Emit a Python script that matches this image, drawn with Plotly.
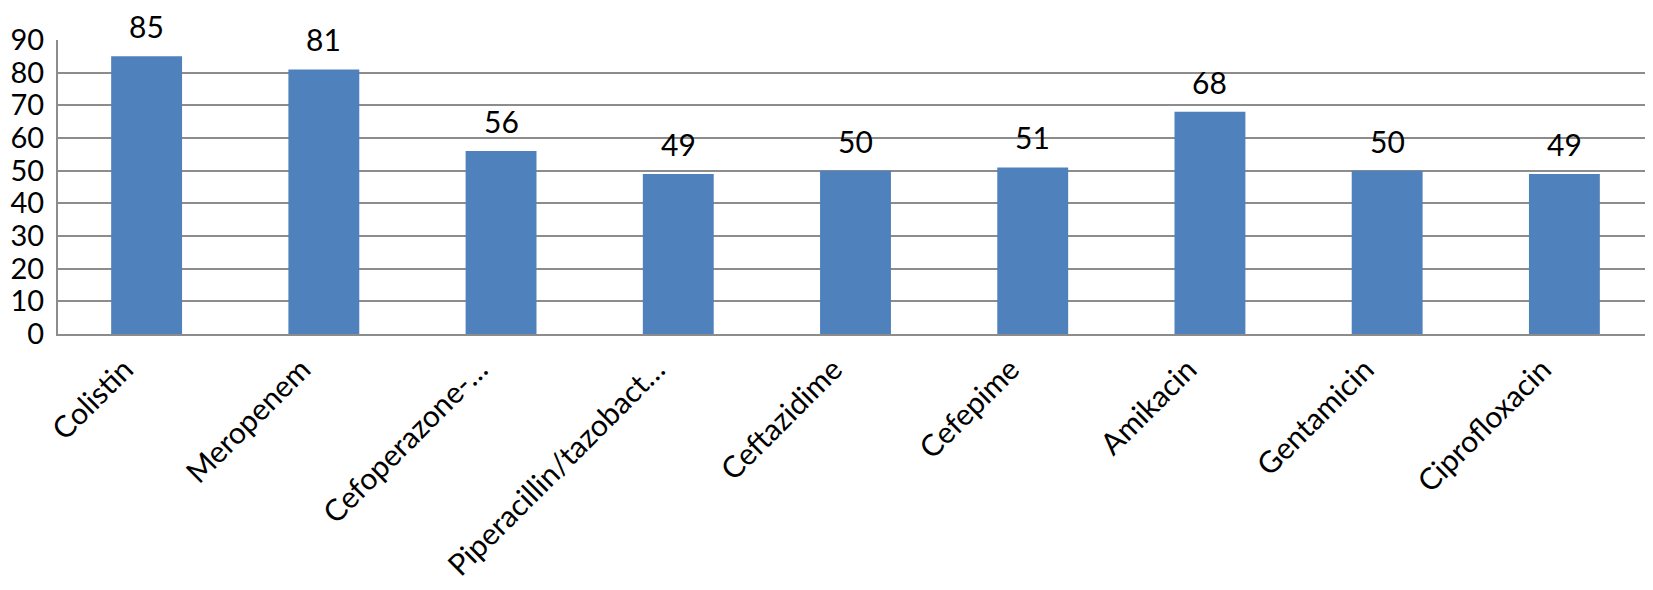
import plotly.graph_objects as go

drugs = ['Colistin', 'Meropenem', 'Cefoperazone-…', 'Piperacillin/tazobact…',
         'Ceftazidime', 'Cefepime', 'Amikacin', 'Gentamicin', 'Ciprofloxacin']
values = [85, 81, 56, 49, 50, 51, 68, 50, 49]

fig = go.Figure(go.Bar(x=drugs, y=values, marker_color='#4F81BD', marker_line_width=0))

for d, v in zip(drugs, values):
    fig.add_annotation(x=d, y=v, text=str(v), showarrow=False, yanchor='bottom', yshift=10,
                       font=dict(size=30, color='black'))

# page body has an 8px default margin, so the figure is a little smaller
fig.update_layout(
    width=1645, height=582,
    margin=dict(l=50, r=0, t=32, b=256),
    plot_bgcolor='white', paper_bgcolor='white',
    bargap=0.6, showlegend=False,
    font=dict(family='Lato', size=30, color='black'),
)
fig.update_yaxes(range=[0, 90], dtick=10, showgrid=True, gridcolor='#8c8c8c', gridwidth=2,
                 showline=True, linecolor='#8c8c8c', linewidth=2, ticks='', ticklen=0,
                 ticklabelstandoff=6, tickfont=dict(size=29),
                 zeroline=False, automargin=False)
fig.update_xaxes(showline=True, linecolor='#8c8c8c', linewidth=2, tickangle=-45, ticks='outside',
                 ticklen=4, tickcolor='white', tickfont=dict(size=30), ticklabelshift=-22,
                 automargin=False)

fig.write_html("out.html")
